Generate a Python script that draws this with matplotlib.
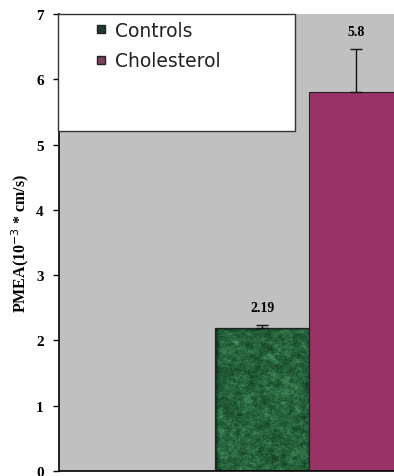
import numpy as np
import matplotlib
matplotlib.use("Agg")
from matplotlib import pyplot as plt
from matplotlib.colors import LinearSegmentedColormap
from matplotlib.lines import Line2D
from matplotlib.patches import Rectangle

groups = ["Controls", "Cholesterol"]
means = [2.19, 5.8]
errors = [0.04, 0.66]
value_labels = ["2.19", "5.8"]
y_ticks = [0, 1, 2, 3, 4, 5, 6, 7]

fig = plt.figure(figsize=(3.94, 4.77), dpi=100)
ax = fig.add_axes([0.150, 0.0105, 0.850, 0.958])
ax.set_facecolor("#c0c0c0")

x = np.arange(len(groups))
bars = ax.bar(x, means, width=1.0, color=["#1d4a2c", "#993366"],
              edgecolor="#222222", linewidth=0.8, zorder=2)
ax.errorbar(x, means, yerr=[[0, 0], errors], fmt="none", ecolor="#111111",
            elinewidth=1.0, capsize=4, capthick=1.0, zorder=3)

# leafy green fill for the controls bar
rng = np.random.default_rng(7)
tex = rng.random((180, 80))
k = np.ones(4) / 4
for _ in range(2):
    tex = np.apply_along_axis(lambda r: np.convolve(r, k, mode="same"), 0, tex)
    tex = np.apply_along_axis(lambda r: np.convolve(r, k, mode="same"), 1, tex)
tex = (tex - tex.min()) / (tex.max() - tex.min())
tex = tex + 0.45 * rng.random(tex.shape)
leaf = LinearSegmentedColormap.from_list(
    "leaf", ["#06160d", "#0e2e1b", "#1a4d2e", "#2f7447", "#5fa877"])
b0 = bars[0]
im = ax.imshow(tex, cmap=leaf, aspect="auto", interpolation="bilinear",
               extent=[b0.get_x(), b0.get_x() + b0.get_width(), 0, means[0]],
               zorder=2.5)
im.set_clip_path(b0)
ax.add_patch(Rectangle((b0.get_x(), 0), b0.get_width(), means[0], fill=False,
                       edgecolor="#222222", linewidth=0.8, zorder=2.6))

for xi, m, e, lab in zip(x, means, errors, value_labels):
    ax.annotate(lab, (xi, m + e), xytext=(0, 8), textcoords="offset points",
                ha="center", va="bottom", fontsize=10, fontweight="bold",
                family="Liberation Serif")

ax.set_xlim(-2.16, 1.40)
ax.set_ylim(0, 7)
ax.set_yticks(y_ticks)
ax.set_yticklabels([str(t) for t in y_ticks], fontsize=11, fontweight="bold",
                   family="Liberation Serif")
ax.tick_params(axis="y", length=4, width=1, pad=7)
ax.set_xticks([])
for s in ["top", "right"]:
    ax.spines[s].set_visible(False)
ax.spines["left"].set_linewidth(1.2)
ax.spines["bottom"].set_linewidth(1.2)
ax.set_ylabel("PMEA(10$^{-3}$ * cm/s)", fontsize=11.5, fontweight="bold",
              family="Liberation Serif", labelpad=4)

# legend panel
fig.patches.append(Rectangle((58 / 394, 1 - 132 / 477), 237 / 394, 117 / 477,
                             transform=fig.transFigure, facecolor="white",
                             edgecolor="#333333", linewidth=1.0, zorder=5))
handles = [Line2D([], [], marker="s", linestyle="none", markersize=6,
                  markerfacecolor=c, markeredgecolor="#222222")
           for c in ["#1f3b2c", "#7d3f5a"]]
leg = fig.legend(handles, groups, loc="upper left",
                 bbox_to_anchor=(78 / 394, 1 - 5 / 477), frameon=False,
                 handletextpad=0.35, labelspacing=0.6, handlelength=0.7,
                 labelcolor="#222222",
                 prop={"family": "DejaVu Sans", "size": 13.5})
leg.set_zorder(6)

fig.savefig("out.png", dpi=100)
